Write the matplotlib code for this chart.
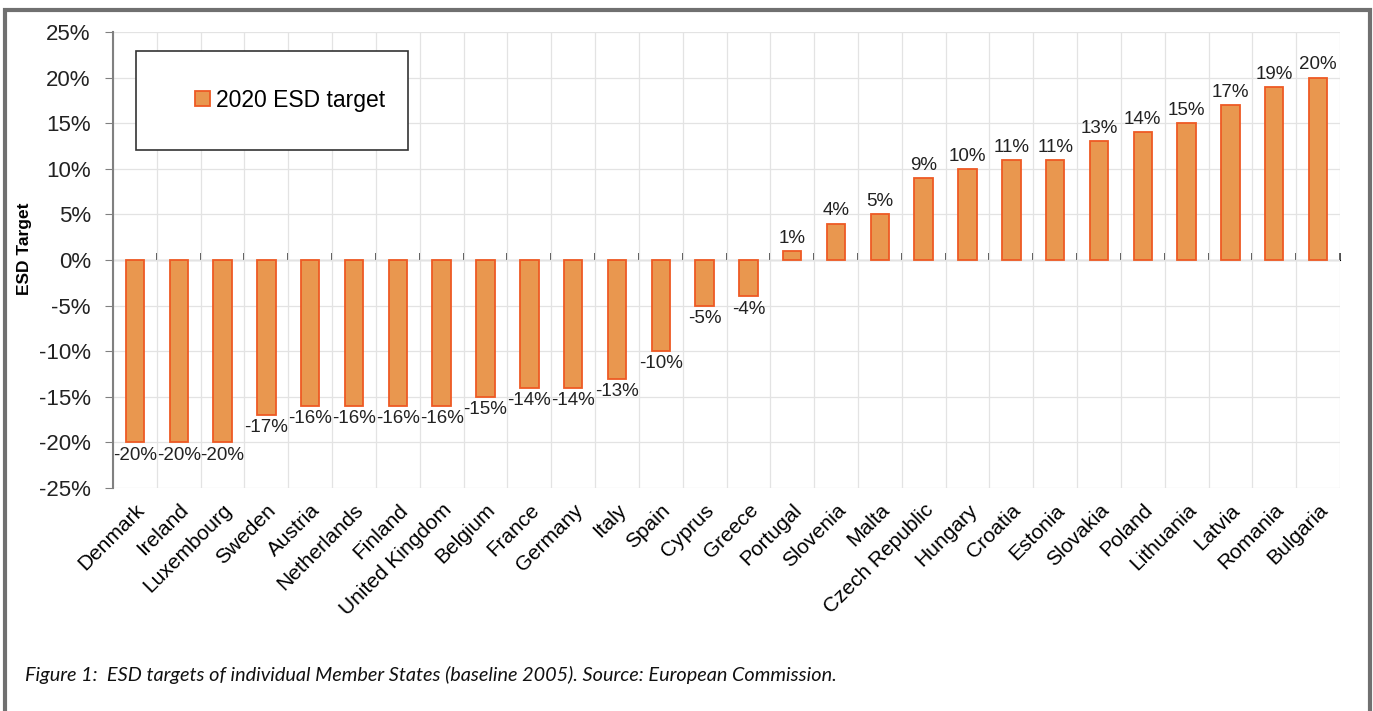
import numpy as np
import matplotlib.pyplot as plt
from matplotlib.patches import Rectangle
from matplotlib.ticker import FuncFormatter, FixedLocator

plt.rcParams['font.family'] = ['Liberation Sans', 'DejaVu Sans']

countries = ["Denmark", "Ireland", "Luxembourg", "Sweden", "Austria", "Netherlands",
             "Finland", "United Kingdom", "Belgium", "France", "Germany", "Italy",
             "Spain", "Cyprus", "Greece", "Portugal", "Slovenia", "Malta",
             "Czech Republic", "Hungary", "Croatia", "Estonia", "Slovakia", "Poland",
             "Lithuania", "Latvia", "Romania", "Bulgaria"]
targets = [-20, -20, -20, -17, -16, -16, -16, -16, -15, -14, -14, -13,
           -10, -5, -4, 1, 4, 5, 9, 10, 11, 11, 13, 14, 15, 17, 19, 20]
yticks = [-25, -20, -15, -10, -5, 0, 5, 10, 15, 20, 25]

W, H = 1373, 711
fig = plt.figure(figsize=(W / 100, H / 100), dpi=100)
ax = fig.add_axes([113 / W, 1 - 488 / H, (1340 - 113) / W, (488 - 32) / H])

x = np.arange(len(countries))
bars = ax.bar(x, targets, width=0.42, color="#E9974F", edgecolor="#EE5A24",
              linewidth=1.3, label="2020 ESD target", zorder=3)
ax.bar_label(bars, labels=["{}%".format(v) for v in targets], padding=3,
             fontsize=13.5, color="#222222")

ax.set_xlim(-0.5, len(countries) - 0.5)
ax.set_ylim(-25, 25)
ax.set_yticks(yticks)
ax.yaxis.set_major_formatter(FuncFormatter(lambda v, p: "{:.0f}%".format(v)))
ax.tick_params(axis="y", labelsize=16, length=6, color="#808080", colors="#222222", pad=10)

# grid on category boundaries and on every 5%
ax.xaxis.set_minor_locator(FixedLocator(np.arange(-0.5, len(countries), 1.0)))
ax.grid(which="minor", axis="x", color="#e3e3e3", linewidth=0.9, zorder=0)
ax.grid(which="major", axis="y", color="#e3e3e3", linewidth=0.9, zorder=0)

ax.set_xticks(x)
ax.set_xticklabels(countries, rotation=45, ha="right", rotation_mode="anchor", fontsize=15)
ax.tick_params(axis="x", which="both", length=0, pad=9)

for s in ("top", "right", "bottom"):
    ax.spines[s].set_visible(False)
ax.spines["left"].set_color("#808080")
ax.spines["left"].set_linewidth(1.5)

# zero line with ticks at the category boundaries
zero = ax.secondary_xaxis(0.5)
zero.set_xticks(np.arange(-0.5, len(countries), 1.0))
zero.set_xticklabels([])
zero.tick_params(length=5, width=1.3, color="#404040", direction="out")
zero.spines["bottom"].set_color("#404040")
zero.spines["bottom"].set_linewidth(1.3)

ax.set_ylabel("ESD Target", fontsize=12.5, fontweight="bold")
ax.yaxis.set_label_coords(-0.066, 0.525)

# legend in a plain square box
fig.patches.append(Rectangle((136 / W, 1 - 150 / H), (408 - 136) / W, (150 - 51) / H,
                             transform=fig.transFigure, facecolor="white",
                             edgecolor="#333333", linewidth=1.2, zorder=5))
leg = fig.legend(handles=[bars], loc="center", bbox_to_anchor=(290 / W, 1 - 100 / H),
                 frameon=False, fontsize=16.5, handlelength=0.65, handleheight=0.65,
                 handletextpad=0.25)
leg.set_zorder(6)

fig.text(25 / W, 1 - 675 / H,
         "Figure 1:  ESD targets of individual Member States (baseline 2005). Source: European Commission.",
         fontsize=14.3, style="italic", family=["Lato", "DejaVu Sans"], va="center", color="#111111")

# outer frame
fig.patches.append(Rectangle((5 / W, -0.05), (1370 - 5) / W, 1.05 - 10 / H,
                             transform=fig.transFigure, fill=False,
                             edgecolor="#707070", linewidth=3))

fig.savefig("out.png", dpi=100)
